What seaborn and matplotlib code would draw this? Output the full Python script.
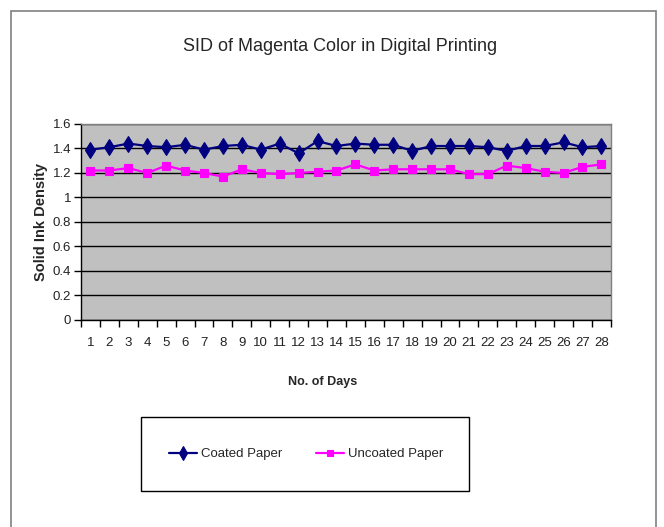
import numpy as np
import pandas as pd
import matplotlib
matplotlib.use('Agg')
import matplotlib.pyplot as plt
from matplotlib.patches import Rectangle
from matplotlib.ticker import FixedLocator
import seaborn as sns

# Data
days = list(range(1, 29))
coated = [1.39, 1.41, 1.44, 1.42, 1.41, 1.43, 1.39, 1.42, 1.43, 1.39,
          1.44, 1.36, 1.46, 1.42, 1.44, 1.43, 1.43, 1.38, 1.42, 1.42,
          1.42, 1.41, 1.38, 1.42, 1.42, 1.45, 1.41, 1.42]
uncoated = [1.22, 1.22, 1.24, 1.20, 1.26, 1.22, 1.20, 1.17, 1.23, 1.20,
            1.19, 1.20, 1.21, 1.22, 1.27, 1.22, 1.23, 1.23, 1.23, 1.23,
            1.19, 1.19, 1.26, 1.24, 1.21, 1.20, 1.25, 1.27]
y_ticks = [0, 0.2, 0.4, 0.6, 0.8, 1, 1.2, 1.4, 1.6]

df = pd.DataFrame({'Day': days, 'Coated Paper': coated, 'Uncoated Paper': uncoated})

sns.set_style('white')
plt.rcParams['font.family'] = ['Liberation Sans Narrow', 'Liberation Sans', 'DejaVu Sans']

fig = plt.figure(figsize=(6.64, 5.27), dpi=100)
ax = fig.add_axes([0.122, 0.3928, 0.798, 0.372])
ax.set_facecolor('#C0C0C0')

sns.lineplot(data=df, x='Day', y='Coated Paper', ax=ax, color='#000080',
             marker='d', markersize=8.5, markeredgewidth=0.8, markeredgecolor='#000080',
             linewidth=1.6, label='Coated Paper', legend=False)
sns.lineplot(data=df, x='Day', y='Uncoated Paper', ax=ax, color='#FF00FF',
             marker='s', markersize=6, markeredgewidth=0.8, markeredgecolor='#FF00FF',
             linewidth=1.6, label='Uncoated Paper', legend=False)

ax.set_xlim(0.5, 28.5)
ax.set_ylim(0, 1.6)
ax.set_yticks(y_ticks)
ax.set_yticklabels([f'{v:g}' for v in y_ticks])
ax.set_xticks(days)
ax.set_xticklabels([str(d) for d in days])
ax.xaxis.set_minor_locator(FixedLocator(np.arange(0.5, 29, 1)))
ax.tick_params(axis='x', which='major', length=0, pad=12, labelsize=9.5, labelcolor='#222222')
ax.tick_params(axis='x', which='minor', length=5, width=1, color='black', direction='out', bottom=True)
ax.tick_params(axis='y', length=5, width=1, color='black', direction='out', left=True,
               labelsize=9.5, labelcolor='#222222', pad=2)

ax.grid(axis='y', color='black', linewidth=1)
ax.set_axisbelow(True)
for side in ['top', 'right']:
    ax.spines[side].set_color('#808080')
    ax.spines[side].set_linewidth(1)
for side in ['left', 'bottom']:
    ax.spines[side].set_color('black')
    ax.spines[side].set_linewidth(1)

ax.set_xlabel('No. of Days', fontsize=9, fontweight='bold')
ax.xaxis.set_label_coords((323 - 81) / 530, -0.285)
ax.set_ylabel('Solid Ink Density', fontsize=10.5, fontweight='bold',
              family=['Liberation Sans', 'DejaVu Sans'])
ax.yaxis.set_label_coords(-0.062, 0.5)

fig.text(0.512, 0.911, 'SID of Magenta Color in Digital Printing', ha='center', va='center',
         fontsize=13)

# outer chart frame
fig.patches.append(Rectangle((0.0166, -0.02), 0.972, 0.999, transform=fig.transFigure,
                             fill=False, edgecolor='#808080', linewidth=1.2))
# legend box
fig.patches.append(Rectangle((0.212, 0.068), 0.494, 0.141, transform=fig.transFigure,
                             fill=False, edgecolor='black', linewidth=1))

handles, labels = ax.get_legend_handles_labels()
leg = fig.legend(handles, labels, loc='center', bbox_to_anchor=(0.461, 0.1385), ncol=2,
                 frameon=False, fontsize=9.5, handlelength=2.1, handletextpad=0.3,
                 columnspacing=2.6, markerscale=0.8)

fig.savefig('out.png', dpi=100)
